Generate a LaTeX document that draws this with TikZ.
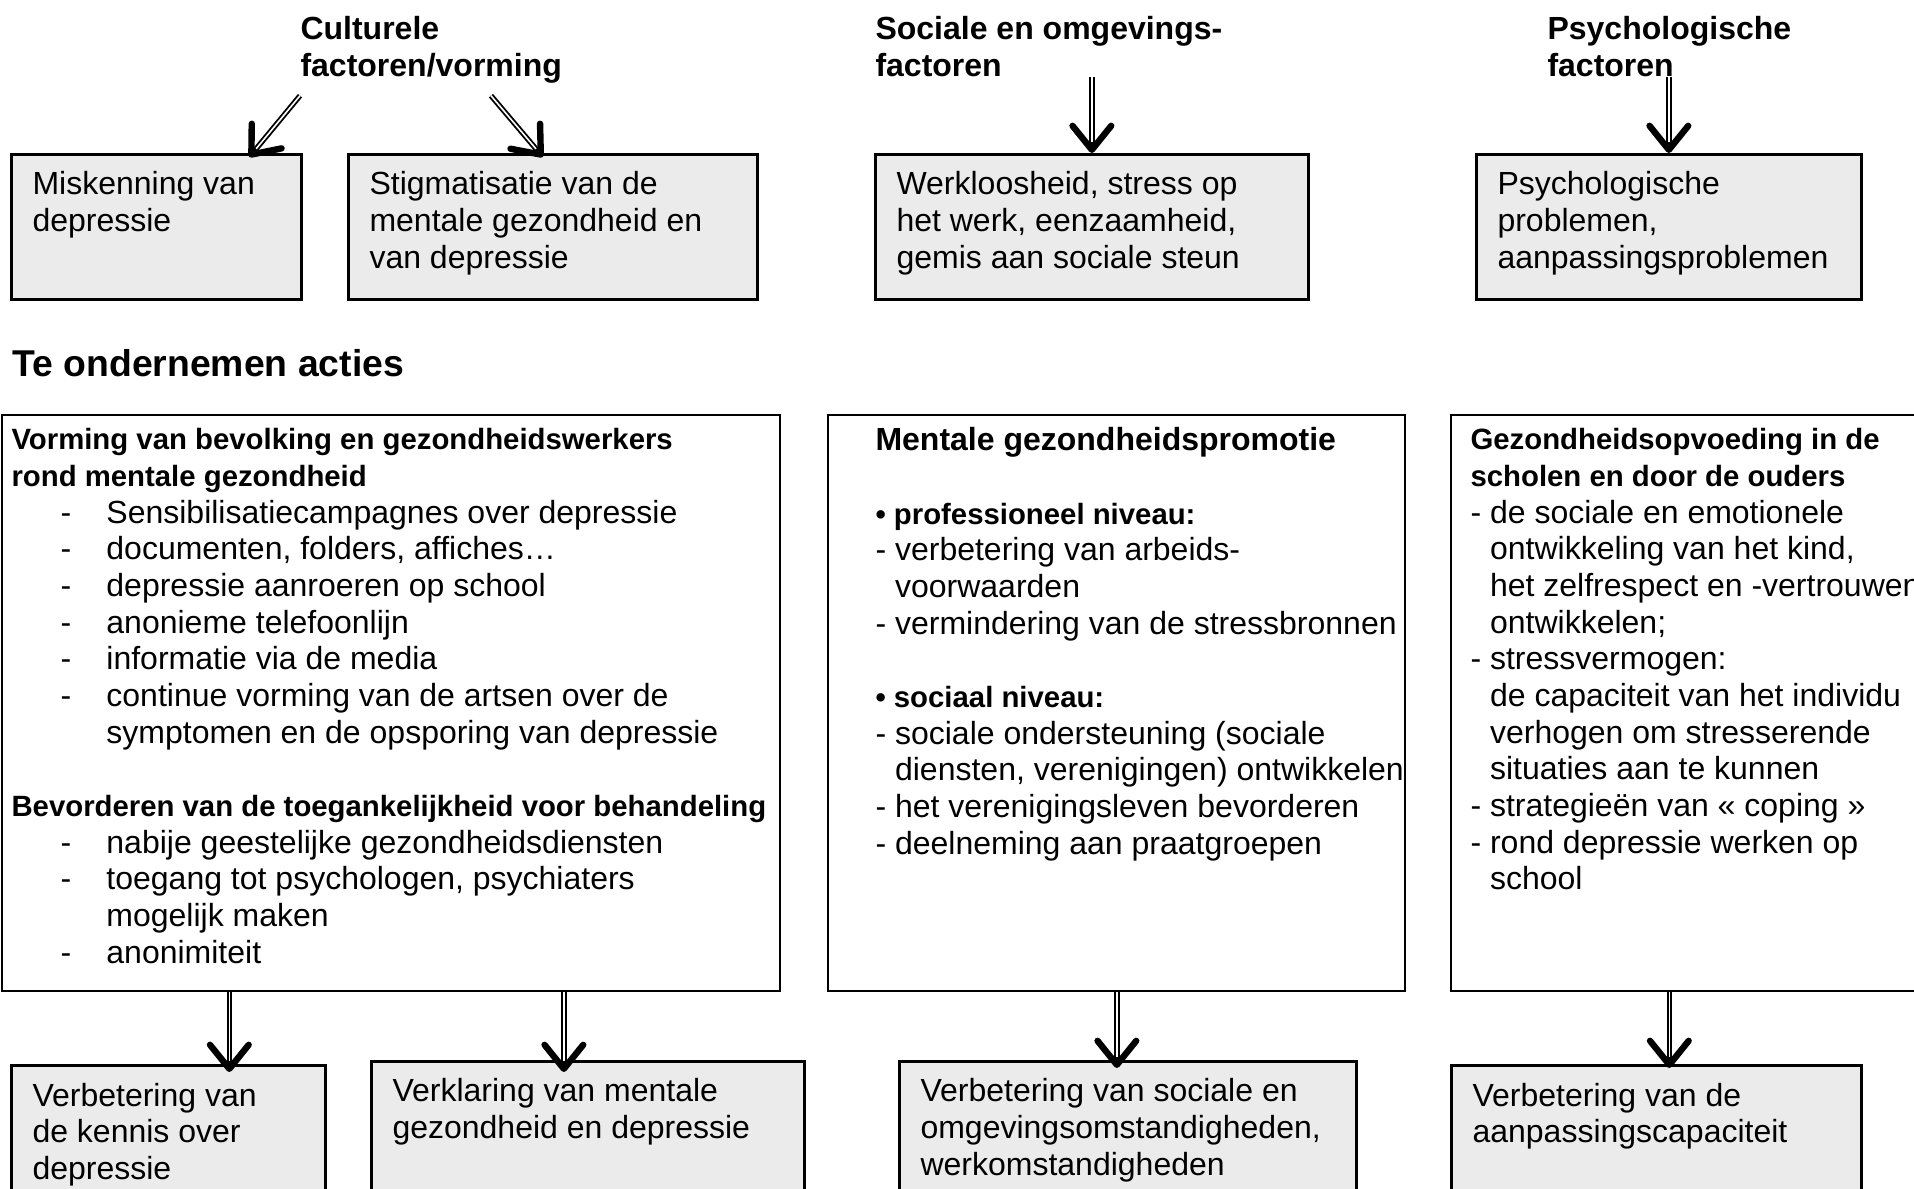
\documentclass[tikz,border=0pt]{standalone}
\usepackage{fontspec}
\setmainfont{Liberation Sans}
\usetikzlibrary{arrows.meta}
\newcommand{\hd}[1]{{\fontsize{11}{13.75}\selectfont\bfseries #1}}
\newcommand{\itm}[1]{\hspace*{18.4pt}\makebox[17.2pt][l]{-}#1}
\newcommand{\cnt}{\hspace*{35.6pt}}
\newcommand{\ind}{\hphantom{-\ }}

\begin{document}
\begin{tikzpicture}[x=0.375pt, y=-0.375pt,
        factbox/.style={rectangle, draw=black, line width=1pt, fill=black!8,
                        anchor=north west, inner sep=0pt},
        actbox/.style={rectangle, draw=black, line width=0.75pt, fill=white,
                       anchor=north west, inner sep=0pt, minimum height=216pt},
        txt/.style={anchor=north west, inner sep=0pt, align=left,
                    font=\fontsize{12}{13.75}\selectfont},
        headtxt/.style={txt, font=\fontsize{12}{13.75}\selectfont\bfseries},
        arr/.style={line width=2pt,
                    -{Straight Barb[round, length=9pt, width=14.5pt, line width=2.4pt]},
                    postaction={draw=white, line width=0.6pt, -, shorten >=4pt}}]
        \useasboundingbox (0,0) rectangle (1914,1188);
        \node[headtxt] (cult) at (300,16)  {Culturele\\factoren/vorming};
        \node[headtxt] (soc)  at (875,16)  {Sociale en omgevings-\\factoren};
        \node[headtxt] (psy)  at (1547,16) {Psychologische\\factoren};
        \node[factbox, minimum width=108.75pt, minimum height=54.4pt] (b1) at (10,153) {};
        \node[factbox, minimum width=153.4pt,  minimum height=54.4pt] (b2) at (347,153) {};
        \node[factbox, minimum width=162.4pt,  minimum height=54.4pt] (b3) at (874,153) {};
        \node[factbox, minimum width=144.4pt,  minimum height=54.4pt] (b4) at (1475,153) {};
        \node[txt] (t1) at ([shift={(22,18)}]b1.north west) {Miskenning van\\depressie};
        \node[txt] (t2) at ([shift={(22,18)}]b2.north west)
            {Stigmatisatie van de\\mentale gezondheid en\\van depressie};
        \node[txt] (t3) at ([shift={(22,18)}]b3.north west)
            {Werkloosheid, stress op\\het werk, eenzaamheid,\\gemis aan sociale steun};
        \node[txt] (t4) at ([shift={(22,18)}]b4.north west)
            {Psychologische\\problemen,\\aanpassingsproblemen};
        \node[txt, font=\fontsize{14}{16}\selectfont\bfseries] (acties) at (12,349)
            {Te ondernemen acties};
        \node[actbox, minimum width=291.75pt] (a5) at (1,414) {};
        \node[actbox, minimum width=216.4pt]  (a6) at (827,414) {};
        \node[actbox, minimum width=181.9pt]  (a7) at (1450,414) {};
        \node[txt] (t5) at ([shift={(10,14)}]a5.north west)
            {\hd{Vorming van bevolking en gezondheidswerkers}\\
             \hd{rond mentale gezondheid}\\
             \itm{Sensibilisatiecampagnes over depressie}\\
             \itm{documenten, folders, affiches…}\\
             \itm{depressie aanroeren op school}\\
             \itm{anonieme telefoonlijn}\\
             \itm{informatie via de media}\\
             \itm{continue vorming van de artsen over de}\\
             \cnt symptomen en de opsporing van depressie\\[13.75pt]
             \hd{Bevorderen van de toegankelijkheid voor behandeling}\\
             \itm{nabije geestelijke gezondheidsdiensten}\\
             \itm{toegang tot psychologen, psychiaters}\\
             \cnt mogelijk maken\\
             \itm{anonimiteit}};
        \node[txt] (t6) at ([shift={(48,13)}]a6.north west)
            {\textbf{Mentale gezondheidspromotie}\\[13.75pt]
             \hd{• professioneel niveau:}\\
             - verbetering van arbeids-\\
             \ind voorwaarden\\
             - vermindering van de stressbronnen\\[13.75pt]
             \hd{• sociaal niveau:}\\
             - sociale ondersteuning (sociale\\
             \ind diensten, verenigingen) ontwikkelen\\
             - het verenigingsleven bevorderen\\
             - deelneming aan praatgroepen};
        \node[txt] (t7) at ([shift={(20,14)}]a7.north west)
            {\hd{Gezondheidsopvoeding in de}\\
             \hd{scholen en door de ouders}\\
             - de sociale en emotionele\\
             \ind ontwikkeling van het kind,\\
             \ind het zelfrespect en -vertrouwen\\
             \ind ontwikkelen;\\
             - stressvermogen:\\
             \ind de capaciteit van het individu\\
             \ind verhogen om stresserende\\
             \ind situaties aan te kunnen\\
             - strategieën van « coping »\\
             - rond depressie werken op\\
             \ind school};
        \node[factbox, minimum width=117.75pt, minimum height=56.25pt] (b8)  at (10,1064) {};
        \node[factbox, minimum width=162.4pt,  minimum height=56.25pt] (b9)  at (370,1060) {};
        \node[factbox, minimum width=171.4pt,  minimum height=56.25pt] (b10) at (898,1060) {};
        \node[factbox, minimum width=153.75pt, minimum height=56.25pt] (b11) at (1450,1064) {};
        \node[txt] (t8)  at ([shift={(22,18.5)}]b8.north west)
            {Verbetering van\\de kennis over\\depressie};
        \node[txt] (t9)  at ([shift={(22,18)}]b9.north west)
            {Verklaring van mentale\\gezondheid en depressie};
        \node[txt] (t10) at ([shift={(22,18)}]b10.north west)
            {Verbetering van sociale en\\omgevingsomstandigheden,\\werkomstandigheden};
        \node[txt] (t11) at ([shift={(22,18.5)}]b11.north west)
            {Verbetering van de\\aanpassingscapaciteit};
        \draw[arr] ([shift={(0,12)}]cult.south west) -- ([shift={(93,4)}]b1.north);
        \draw[arr] ([shift={(191,12)}]cult.south west) -- ([shift={(-10,4)}]b2.north);
        \draw[arr] (soc.south -| b3.north) -- (b3.north);
        \draw[arr] (psy.south -| b4.north) -- (b4.north);
        \coordinate (e8)  at ([shift={(61,8)}]b8.north);
        \coordinate (e9)  at ([shift={(-24,12)}]b9.north);
        \coordinate (e10) at ([shift={(-11,8)}]b10.north);
        \coordinate (e11) at ([shift={(13,4)}]b11.north);
        \draw[arr] (a5.south -| e8)  -- (e8);
        \draw[arr] (a5.south -| e9)  -- (e9);
        \draw[arr] (a6.south -| e10) -- (e10);
        \draw[arr] (a7.south -| e11) -- (e11);
\end{tikzpicture}
\end{document}
